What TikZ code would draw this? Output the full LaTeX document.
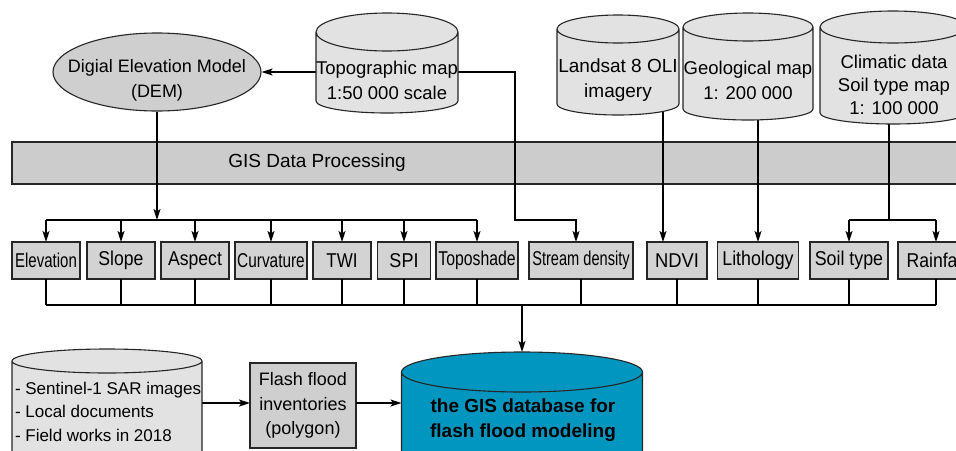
\documentclass[tikz,border=0pt]{standalone}
\usepackage{fontspec}
\setmainfont{Liberation Sans}
\usepackage{graphicx}
\usetikzlibrary{shapes.geometric,arrows.meta,calc}

\definecolor{cylfill}{HTML}{E2E2E2}
\definecolor{demfill}{HTML}{CFCFCF}
\definecolor{bandfill}{HTML}{CCCCCC}
\definecolor{boxfill}{HTML}{D3D3D3}
\definecolor{dbteal}{HTML}{0096BF}

% Cylinder outline drawn around the extent of a named node:
% #1 node, #2 top cap radius, #3 bottom cap radius, #4 fill colour
\newcommand{\dbcyl}[4]{%
  \path[cylline, fill=#4] let \p1=(#1.north west), \p2=(#1.south east),
        \n1={(\x2-\x1)/2} in
    (\x1,\y1-#2pt) -- (\x1,\y2+#3pt)
    arc[start angle=180, end angle=360, x radius={\n1*1pt}, y radius=#3pt]
    -- (\x2,\y1-#2pt)
    arc[start angle=0, end angle=180, x radius={\n1*1pt}, y radius=#2pt] -- cycle
    (\x1,\y1-#2pt)
    arc[start angle=180, end angle=360, x radius={\n1*1pt}, y radius=#2pt];
}
% condensed label for the factor boxes
\newcommand{\nlabel}[2]{\scalebox{#1}[1]{#2}}

\begin{document}
\begin{tikzpicture}[x=1pt,y=-1pt,
  cylline/.style={draw=black!85, line width=1.1pt},
  ext/.style={rectangle, inner sep=0pt, outer sep=0pt},
  txt/.style={inner sep=0pt, outer sep=0pt, align=center,
              font=\fontsize{18.5}{25}\selectfont},
  box/.style={rectangle, draw=black!85, line width=1.1pt, fill=boxfill,
              inner sep=0pt, outer sep=0pt, minimum height=37pt,
              font=\fontsize{20}{22}\selectfont},
  conn/.style={line width=1.4pt},
  arr/.style={conn, -{Stealth[length=11pt,width=7pt,inset=2.5pt]}}]

\useasboundingbox (0,0) rectangle (956,450);
\clip (0,0) rectangle (956,450);
\fill[white] (0,0) rectangle (956,450);

% processing band
\node[rectangle, draw=black!85, line width=1.1pt, fill=bandfill, inner sep=0pt,
      minimum width=960pt, minimum height=42pt] (band) at (492,163) {};
\node[txt, font=\fontsize{19}{25}\selectfont] (band-txt) at (317,163) {GIS Data Processing};

% extents of the data stores
\node[ext, minimum width=142pt, minimum height=100pt] (topo)  at (387,63)    {};
\node[ext, minimum width=122pt, minimum height=100pt] (lsat)  at (618,65)    {};
\node[ext, minimum width=130pt, minimum height=107pt] (geo)   at (748,66.5)  {};
\node[ext, minimum width=146pt, minimum height=113pt] (clim)  at (893,67.5)  {};
\node[ext, minimum width=190pt, minimum height=121pt] (sent)  at (107,409.5) {};
\node[ext, minimum width=241pt, minimum height=118pt] (gisdb) at (522,411)   {};

% elevation model
\node[ellipse, draw=black!85, line width=1.1pt, fill=demfill, inner sep=0pt,
      minimum width=208pt, minimum height=78pt] (dem) at (157,72) {};
\node[txt, font=\fontsize{18}{25}\selectfont] (dem-txt) at (157,80)
      {Digial Elevation Model\\(DEM)};

% factor layers
\node[box, minimum width=68pt]  (elev)   at (46,260.5)  {\nlabel{0.75}{Elevation}};
\node[box, minimum width=68pt]  (slope)  at (121,260.5) {\nlabel{0.88}{Slope}};
\node[box, minimum width=68pt]  (aspect) at (195,260.5) {\nlabel{0.88}{Aspect}};
\node[box, minimum width=72pt]  (curv)   at (271,260.5) {\nlabel{0.77}{Curvature}};
\node[box, minimum width=58pt]  (twi)    at (342,260.5) {\nlabel{0.85}{TWI}};
\node[box, minimum width=53pt]  (spi)    at (404,260.5) {\nlabel{0.9}{SPI}};
\node[box, minimum width=82pt]  (topos)  at (477,260.5) {\nlabel{0.79}{Toposhade}};
\node[box, minimum width=104pt] (stream) at (581,260.5) {\nlabel{0.73}{Stream density}};
\node[box, minimum width=60pt]  (ndvi)   at (677,260.5) {\nlabel{0.92}{NDVI}};
\node[box, minimum width=81pt]  (litho)  at (758,260.5) {\nlabel{0.89}{Lithology}};
\node[box, minimum width=78pt]  (soil)   at (849,260.5) {\nlabel{0.89}{Soil type}};
\node[box, minimum width=76pt]  (rain)   at (936,260.5) {\nlabel{0.88}{Rainfall}};

% flood inventory
\node[box, minimum width=106pt, minimum height=85pt, fill=demfill, align=center,
      font=\fontsize{18}{24.5}\selectfont] (flash) at (303,405.5)
      {Flash flood\\inventories\\(polygon)};

\coordinate (busT) at (0,220);
\coordinate (busB) at (0,305);
\coordinate (bendS) at (515,220);

% connectors
\draw[arr] ([yshift=-9pt]topo.west) -- ([yshift=-9pt]topo.west -| dem.east);
\draw[arr] ([yshift=-9pt]topo.east) -| (bendS) -| ([xshift=-5pt]stream.north);
\draw[arr] (dem.south) -- (dem.south |- busT);
\draw[conn] (elev.north |- busT) -- (topos.north |- busT);
\foreach \b in {elev,slope,aspect,curv,twi,spi,topos}
  \draw[arr] (\b.north |- busT) -- (\b.north);
\draw[arr] ([xshift=-14pt]ndvi.north |- lsat.center) -- ([xshift=-14pt]ndvi.north);
\draw[arr] (litho.north |- geo.center) -- (litho.north);
\draw[conn] ([xshift=-4pt]clim.center) -- ([xshift=-4pt]clim.center |- busT);
\draw[conn] (soil.north |- busT) -- (rain.north |- busT);
\draw[arr] (soil.north |- busT) -- (soil.north);
\draw[arr] (rain.north |- busT) -- (rain.north);
\foreach \b in {elev,slope,aspect,curv,twi,spi,topos,stream,ndvi,litho,soil,rain}
  \draw[conn] (\b.south) -- (\b.south |- busB);
\draw[conn] (elev.south |- busB) -- (rain.south |- busB);
\draw[arr] (gisdb.north |- busB) -- (gisdb.north);
\draw[arr] ([yshift=6.5pt]sent.east) -- ([yshift=6.5pt]sent.east -| flash.west);
\draw[arr] ([yshift=2.5pt]flash.east) -- ([yshift=2.5pt]flash.east -| gisdb.west);

% data store outlines
\dbcyl{topo}{19}{12}{cylfill}
\dbcyl{lsat}{14}{11}{cylfill}
\dbcyl{geo}{14}{11}{cylfill}
\dbcyl{clim}{16}{11}{cylfill}
\dbcyl{sent}{12}{12}{cylfill}
\dbcyl{gisdb}{20}{12}{dbteal}

% data store labels
\node[txt] (topo-txt) at (387,80.5) {Topographic map\\1:50 000 scale};
\node[txt, font=\fontsize{19}{25}\selectfont] (lsat-txt) at (618,80.5) {Landsat 8 OLI\\imagery};
\node[txt] (geo-txt)  at (748,80.5) {Geological map\\1: 200 000};
\node[txt, font=\fontsize{18.5}{23}\selectfont] (clim-txt) at (894,85)
      {Climatic data\\Soil type map\\1: 100 000};
\node[txt, align=left, anchor=west, font=\fontsize{17}{23.5}\selectfont] (sent-txt)
      at (15,411.5) {- Sentinel-1 SAR images\\- Local documents\\- Field works in 2018};
\node[txt, font=\fontsize{19}{25}\selectfont\bfseries] (gisdb-txt) at (523,420.5)
      {the GIS database for\\flash flood modeling};
\end{tikzpicture}
\end{document}
